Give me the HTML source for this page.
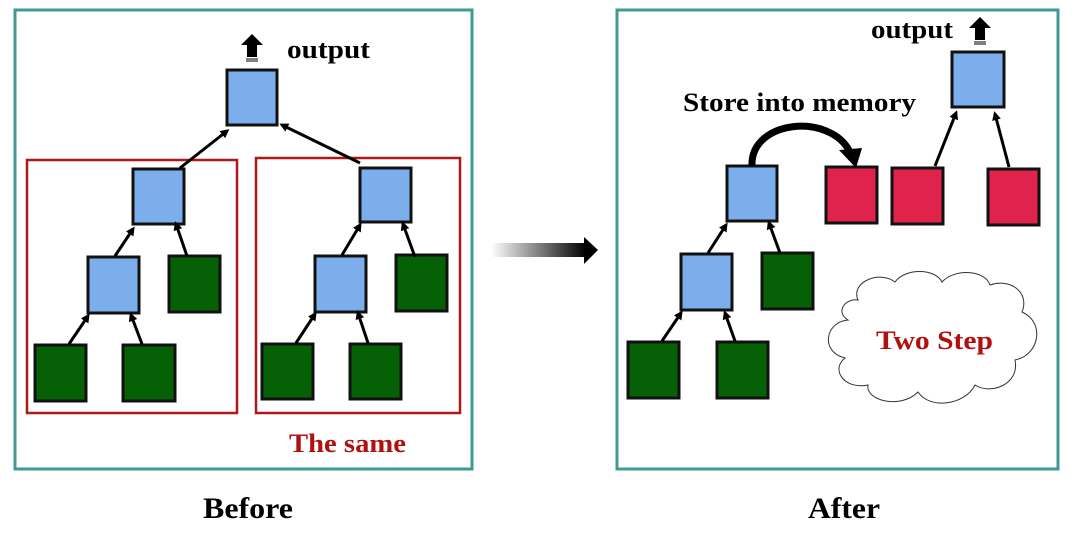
<!DOCTYPE html>
<html><head><meta charset="utf-8"><style>html,body{margin:0;padding:0;background:#fff}svg{display:block}</style></head>
<body>
<svg width="1080" height="534" viewBox="0 0 1080 534" xmlns="http://www.w3.org/2000/svg" font-family="Liberation Serif, serif" font-weight="bold">
<defs>
<marker id="a" markerWidth="9" markerHeight="9" refX="6" refY="4.5" orient="auto" markerUnits="userSpaceOnUse"><path d="M0,0 L9,4.5 L0,9 Z" fill="#000"/></marker>
<linearGradient id="g" x1="0" x2="1"><stop offset="0" stop-color="#fff"/><stop offset="1" stop-color="#000"/></linearGradient>
</defs>
<g fill="none" stroke="#3f9a94" stroke-width="3">
<rect x="15" y="10" width="457" height="459"/>
<rect x="617" y="10" width="441" height="459"/>
</g>
<g fill="none" stroke="#b01818" stroke-width="2.5">
<rect x="27" y="160" width="210" height="253"/>
<rect x="256" y="158" width="204" height="255"/>
</g>
<g stroke="#111" stroke-width="3">
<rect x="227" y="70" width="50" height="55" fill="#7baeea"/>
<rect x="133" y="169" width="51" height="55" fill="#7baeea"/>
<rect x="88" y="257" width="51" height="56" fill="#7baeea"/>
<rect x="360" y="168" width="51" height="54" fill="#7baeea"/>
<rect x="315" y="256" width="51" height="56" fill="#7baeea"/>
<rect x="952" y="52" width="52" height="55" fill="#7baeea"/>
<rect x="727" y="166" width="50" height="55" fill="#7baeea"/>
<rect x="681" y="254" width="51" height="56" fill="#7baeea"/>
<g fill="#066106">
<rect x="169" y="256" width="51" height="56"/>
<rect x="35" y="345" width="51" height="56"/>
<rect x="123" y="345" width="52" height="56"/>
<rect x="396" y="255" width="51" height="56"/>
<rect x="262" y="344" width="51" height="55"/>
<rect x="350" y="344" width="51" height="55"/>
<rect x="762" y="253" width="51" height="56"/>
<rect x="628" y="342" width="51" height="56"/>
<rect x="717" y="342" width="51" height="56"/>
</g>
<g fill="#e0234a">
<rect x="826" y="167" width="51" height="56"/>
<rect x="892" y="168" width="51" height="56"/>
<rect x="988" y="169" width="51" height="56"/>
</g>
</g>
<g stroke="#000" stroke-width="3" marker-end="url(#a)">
<line x1="180" y1="168" x2="227" y2="131"/>
<line x1="360" y1="163" x2="282" y2="125"/>
<line x1="115" y1="256" x2="133" y2="229"/>
<line x1="187" y1="256" x2="176" y2="224"/>
<line x1="69" y1="344" x2="88" y2="316"/>
<line x1="142" y1="344" x2="131" y2="315"/>
<line x1="342" y1="255" x2="360" y2="225"/>
<line x1="415" y1="257" x2="403" y2="224"/>
<line x1="296" y1="343" x2="315" y2="314"/>
<line x1="368" y1="343" x2="358" y2="313"/>
<line x1="935" y1="166" x2="956" y2="113"/>
<line x1="1009" y1="167" x2="995" y2="114"/>
<line x1="708" y1="253" x2="726" y2="225"/>
<line x1="780" y1="253" x2="769" y2="223"/>
<line x1="662" y1="341" x2="681" y2="313"/>
<line x1="735" y1="341" x2="725" y2="313"/>
</g>
<path d="M252,34 L263,45 L257,45 L257,57 L247,57 L247,45 L241,45 Z" fill="#000"/>
<g stroke="#000" stroke-width="1"><line x1="246" y1="59" x2="258" y2="59"/><line x1="246" y1="61" x2="258" y2="61"/></g>
<path d="M980,17 L991,28 L985,28 L985,40 L975,40 L975,28 L969,28 Z" fill="#000"/>
<g stroke="#000" stroke-width="1"><line x1="974" y1="42" x2="986" y2="42"/><line x1="974" y1="44" x2="986" y2="44"/></g>
<path d="M752,166 C750,120 830,112 850,152" fill="none" stroke="#000" stroke-width="7"/>
<path d="M839,150 L862,148 L856,168 Z" fill="#000"/>
<rect x="491" y="243" width="95" height="14" fill="url(#g)"/>
<path d="M584,237 L598,250 L584,264 Z" fill="#000"/>
<path d="M858,300 C850,282 880,270 895,282 C905,268 935,268 942,282 C955,268 985,270 990,285 C1010,278 1030,292 1022,312 C1045,322 1040,355 1015,360 C1020,385 990,395 975,385 C965,405 930,410 918,392 C900,410 865,400 868,385 C845,390 830,370 845,358 C820,352 825,322 848,320 C835,312 845,298 858,300 Z" fill="#fff" stroke="#333" stroke-width="1"/>
<g font-size="26" lengthAdjust="spacingAndGlyphs">
<text x="287" y="58" fill="#000" textLength="83" lengthAdjust="spacingAndGlyphs">output</text>
<text x="871" y="38" fill="#000" textLength="82" lengthAdjust="spacingAndGlyphs">output</text>
<text x="683" y="111" fill="#000" textLength="233" lengthAdjust="spacingAndGlyphs">Store into memory</text>
<text x="289" y="452" fill="#b01010" textLength="117" lengthAdjust="spacingAndGlyphs">The same</text>
<text x="876" y="349" fill="#b01010" textLength="117" lengthAdjust="spacingAndGlyphs">Two Step</text>
</g>
<g font-size="30" fill="#000">
<text x="203" y="518" textLength="90" lengthAdjust="spacingAndGlyphs">Before</text>
<text x="808" y="518" textLength="72" lengthAdjust="spacingAndGlyphs">After</text>
</g>
</svg>
</body></html>
